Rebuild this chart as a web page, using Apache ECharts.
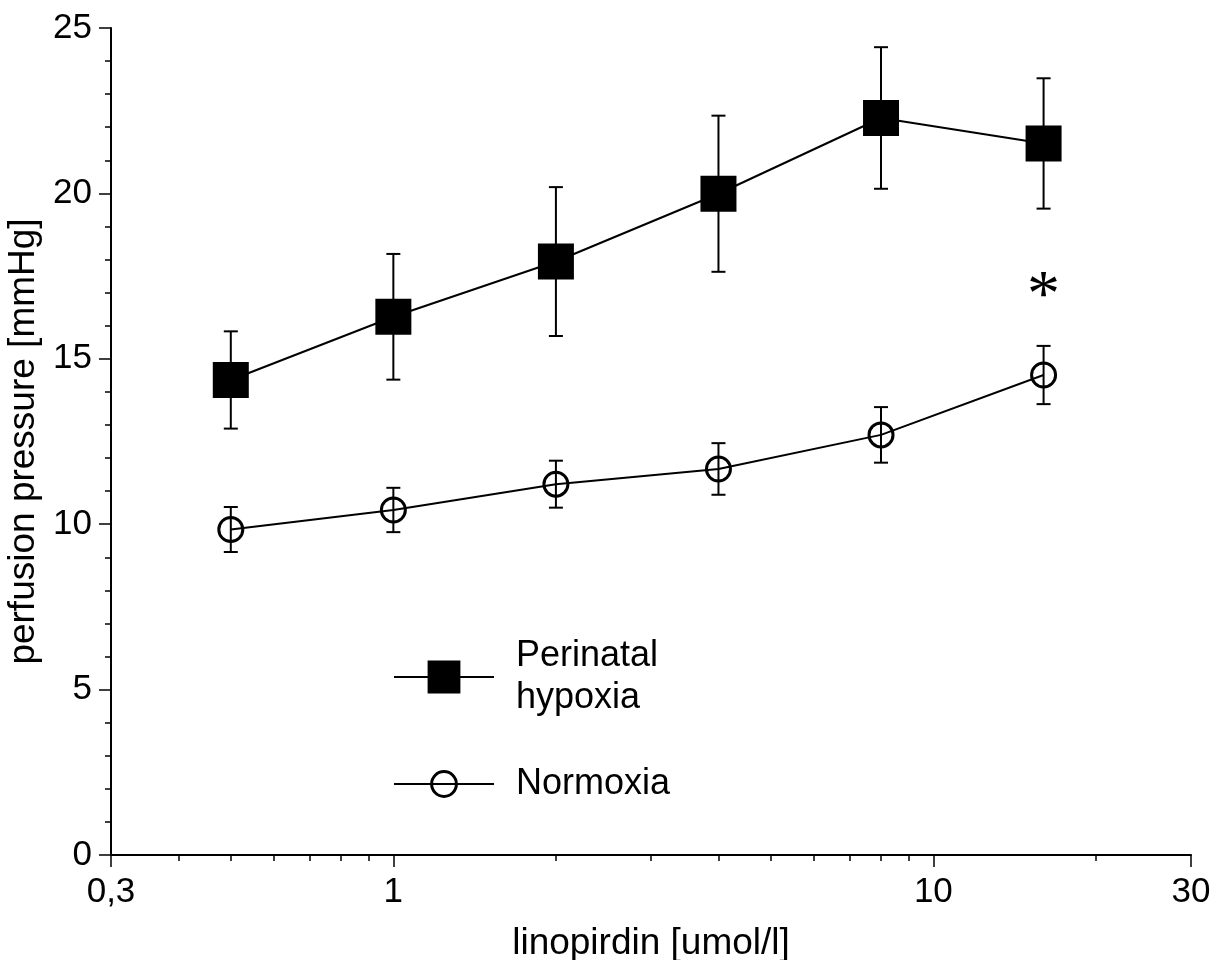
<!DOCTYPE html>
<html>
<head>
<meta charset="utf-8">
<script src="https://cdn.jsdelivr.net/npm/echarts@6/dist/echarts.min.js"></script>
<style>
html,body{margin:0;padding:0;background:#fff;}
#chart{width:1216px;height:960px;}
</style>
</head>
<body>
<div id="chart"></div>
<script>
// ---- data ----
const concentrations = [0.5, 1, 2, 4, 8, 16];
const hypoxiaMean = [14.36, 16.27, 17.94, 19.99, 22.28, 21.51];
const hypoxiaErr  = [1.47, 1.90, 2.25, 2.36, 2.14, 1.97];
const normoxiaMean = [9.84, 10.43, 11.21, 11.67, 12.70, 14.51];
const normoxiaErr  = [0.68, 0.67, 0.71, 0.78, 0.84, 0.88];
const xMajorTicks = [0.3, 1, 10, 30];
const xMinorTicks = [0.4, 0.5, 0.6, 0.7, 0.8, 0.9, 2, 3, 4, 5, 6, 7, 8, 9, 20];
const yTicks = [0, 5, 10, 15, 20, 25];
const significance = [{x: 16, y: 17.23, text: '*'}];
const seriesNames = ['Perinatal\nhypoxia', 'Normoxia'];

const FONT = 'Liberation Sans, Arial, sans-serif';

function pairs(xs, ys) { return xs.map((x, i) => [x, ys[i]]); }
function errData(xs, ys, es) { return xs.map((x, i) => [x, ys[i] - es[i], ys[i] + es[i]]); }

function errRender(params, api) {
  const x = api.value(0);
  const lo = api.coord([x, api.value(1)]);
  const hi = api.coord([x, api.value(2)]);
  const hw = 7;
  const st = {stroke: '#000', lineWidth: 2};
  return {
    type: 'group',
    children: [
      {type: 'line', shape: {x1: lo[0], y1: lo[1], x2: hi[0], y2: hi[1]}, style: st},
      {type: 'line', shape: {x1: hi[0] - hw, y1: hi[1], x2: hi[0] + hw, y2: hi[1]}, style: st},
      {type: 'line', shape: {x1: lo[0] - hw, y1: lo[1], x2: lo[0] + hw, y2: lo[1]}, style: st}
    ]
  };
}

const chart = echarts.init(document.getElementById('chart'), null, {renderer: 'canvas'});
chart.setOption({
  animation: false,
  backgroundColor: '#fff',
  grid: {left: 111, right: 25, top: 28, bottom: 105, containLabel: false, outerBoundsMode: 'none'},
  xAxis: [{
    type: 'log', logBase: 10, min: 0.3, max: 30, position: 'bottom',
    name: 'linopirdin [umol/l]', nameLocation: 'middle', nameGap: 70,
    nameTextStyle: {fontFamily: FONT, fontSize: 37, color: '#000'},
    axisLine: {show: true, lineStyle: {color: '#000', width: 2}},
    axisTick: {show: true, length: 12, customValues: xMajorTicks, lineStyle: {color: '#000', width: 1.5}},
    axisLabel: {show: true, customValues: xMajorTicks, margin: 20, fontFamily: FONT, fontSize: 35, color: '#000',
      formatter: v => String(+(+v).toPrecision(6)).replace('.', ',')},
    splitLine: {show: false}, minorTick: {show: false}
  }, {
    type: 'log', logBase: 10, min: 0.3, max: 30, position: 'bottom', offset: 0,
    axisLine: {show: false},
    axisTick: {show: true, length: 6, customValues: xMinorTicks, lineStyle: {color: '#000', width: 1.5}},
    axisLabel: {show: false},
    splitLine: {show: false}
  }],
  yAxis: {
    type: 'value', min: yTicks[0], max: yTicks[yTicks.length - 1], interval: 5,
    name: 'perfusion pressure [mmHg]', nameLocation: 'middle', nameGap: 53,
    nameTextStyle: {fontFamily: FONT, fontSize: 37, color: '#000'},
    axisLine: {show: true, lineStyle: {color: '#000', width: 2}},
    axisTick: {show: true, length: 12, lineStyle: {color: '#000', width: 1.5}},
    minorTick: {show: true, splitNumber: 5, length: 6, lineStyle: {color: '#000', width: 1.5}},
    axisLabel: {margin: 19, fontFamily: FONT, fontSize: 35, color: '#000'},
    splitLine: {show: false}
  },
  legend: [{
    data: [seriesNames[0]], left: 393, top: 635, padding: 0,
    itemWidth: 100, itemHeight: 41,
    textStyle: {fontFamily: FONT, fontSize: 36, color: '#000', lineHeight: 42, padding: [0, 0, 0, 17]},
    itemStyle: {borderWidth: 0}
  }, {
    data: [seriesNames[1]], left: 393, top: 764, padding: 0,
    itemWidth: 100, itemHeight: 31,
    textStyle: {fontFamily: FONT, fontSize: 36, color: '#000', lineHeight: 40, padding: [0, 0, 0, 17]},
    itemStyle: {borderWidth: 3, borderColor: '#000', color: 'rgba(0,0,0,0)'}
  }],
  series: [{
    name: 'hypoxiaErr', type: 'custom', z: 1, silent: true,
    renderItem: errRender, encode: {x: 0, y: [1, 2]},
    data: errData(concentrations, hypoxiaMean, hypoxiaErr)
  }, {
    name: 'normoxiaErr', type: 'custom', z: 1, silent: true,
    renderItem: errRender, encode: {x: 0, y: [1, 2]},
    data: errData(concentrations, normoxiaMean, normoxiaErr)
  }, {
    name: seriesNames[0], type: 'line', z: 3,
    symbol: 'rect', symbolSize: 36,
    lineStyle: {color: '#000', width: 2},
    itemStyle: {color: '#000', borderWidth: 0},
    data: pairs(concentrations, hypoxiaMean)
  }, {
    name: seriesNames[1], type: 'line', z: 3,
    symbol: 'circle', symbolSize: 24,
    lineStyle: {color: '#000', width: 2},
    itemStyle: {color: 'rgba(0,0,0,0)', borderColor: '#000', borderWidth: 3},
    data: pairs(concentrations, normoxiaMean)
  }, {
    name: 'sig', type: 'custom', z: 4, silent: true,
    renderItem: (params, api) => {
      const p = api.coord([api.value(0), api.value(1)]);
      return {type: 'text', x: p[0], y: p[1] + 13,
        style: {text: significance[params.dataIndex].text, fontFamily: 'Liberation Serif, serif', fontSize: 66,
          fill: '#000', align: 'center', verticalAlign: 'middle'}};
    },
    encode: {x: 0, y: 1},
    data: significance.map(s => [s.x, s.y])
  }]
});
</script>
</body>
</html>
